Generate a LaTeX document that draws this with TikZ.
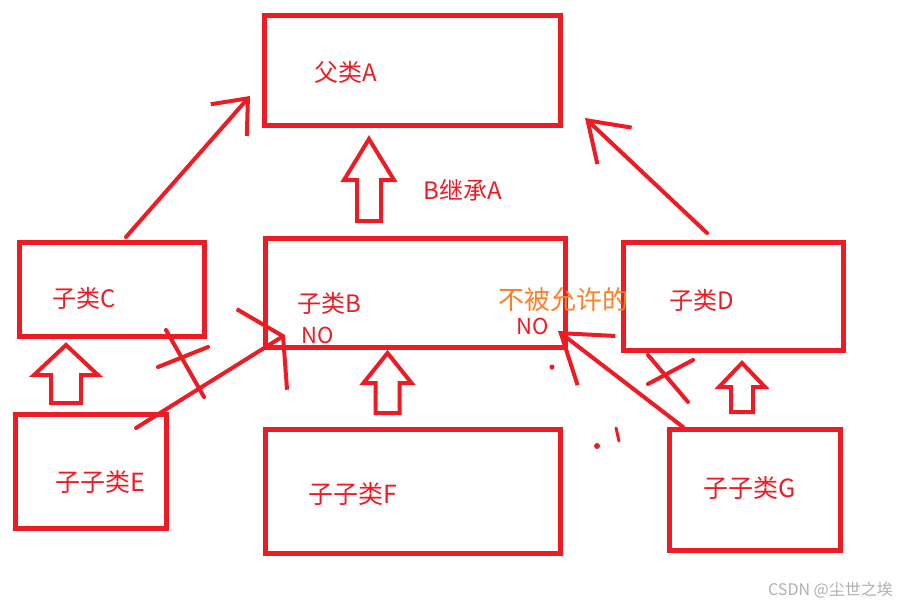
\documentclass[tikz,border=0pt]{standalone}
\usepackage{fontspec}
\setmainfont{Noto Sans CJK SC}
\usetikzlibrary{arrows.meta, positioning, calc}
\definecolor{paintred}{RGB}{237,28,36}
\definecolor{paintorange}{RGB}{255,127,39}
\definecolor{markgray}{RGB}{175,175,175}
\tikzset{
  box/.style={draw=paintred, line width=4.5pt, inner sep=0pt, outer sep=0pt},
  lbl/.style={text=paintred, font=\fontsize{24}{28}\selectfont, inner sep=0pt},
  arr/.style={draw=paintred, line width=4pt, line cap=round, line join=round},
  blk/.style={draw=paintred, line width=4pt, line join=miter},
  crossline/.style={draw=paintred, line width=4pt, line cap=round},
  pics/blockup/.style n args={4}{code={
    \draw[blk] (-#4,0) -- (-#4,#2-#1) -- (-#3,#2-#1) -- (0,-#1) -- (#3,#2-#1) -- (#4,#2-#1) -- (#4,0) -- cycle;
  }},
}

\begin{document}
\begin{tikzpicture}[x=1pt, y=-1pt]
  \useasboundingbox (0,0) rectangle (903,605);
  % classes
  \node[box, minimum width=296pt, minimum height=110pt] (A) at (412.5,70.5) {};
  \node[box, minimum width=300pt, minimum height=109pt] (B) at (415.5,293) {};
  \node[box, minimum width=185pt, minimum height=94pt] (C) at (112,289.5) {};
  \node[box, minimum width=220pt, minimum height=108pt] (D) at (733.5,296.5) {};
  \node[box, minimum width=151pt, minimum height=114pt] (E) at (91,471.5) {};
  \node[box, minimum width=295pt, minimum height=124pt] (F) at (413,491.5) {};
  \node[box, minimum width=171pt, minimum height=121pt] (G) at (755,490) {};

  % labels
  \node[lbl] (tA) at (345.5,72) {父类A};
  \node[lbl] (tAB) at (462.5,190) {B继承A};
  \node[lbl] (tC) at (84,298) {子类C};
  \node[lbl] (tB) at (329,303) {子类B};
  \node[lbl, font=\fontsize{22}{26}\selectfont] (noB) at (318,335) {NO};
  \node[lbl, text=paintorange, font=\fontsize{26}{30}\selectfont] (deny) at (563,300) {不被允许的};
  \node[lbl, font=\fontsize{22}{26}\selectfont] (noD) at (533,326) {NO};
  \node[lbl] (tD) at (701.5,300) {子类D};
  \node[lbl, font=\fontsize{25}{29}\selectfont] (tE) at (100.5,482) {子子类E};
  \node[lbl, font=\fontsize{25}{29}\selectfont] (tF) at (353,494) {子子类F};
  \node[lbl, font=\fontsize{25}{29}\selectfont] (tG) at (749.5,488) {子子类G};
  \node[lbl, text=markgray, font=\fontsize{16}{18}\selectfont] (wm) at (830.5,590) {CSDN @尘世之埃};

  % inheritance, hollow arrows
  \pic at (369,221) {blockup={82}{41}{25}{12}};
  \pic at (66,403) {blockup={58}{30}{32}{15}};
  \pic at (387.5,413) {blockup={60}{30}{24}{12}};
  \pic at (742,412) {blockup={49}{24}{23}{11}};

  % line arrows
  \draw[arr, -{Straight Barb[length=29pt, width=48pt]}]
    ([xshift=14pt, yshift=5.5pt]C.north) -- ([xshift=-14.5pt, yshift=-25.5pt]A.west);
  \draw[arr, -{Straight Barb[length=37pt, width=50pt]}]
    ([xshift=-26.5pt, yshift=9.5pt]D.north) -- ([xshift=24.5pt, yshift=-47.5pt]A.east);
  \draw[arr, -{Straight Barb[length=25pt, width=95pt]}]
    ([xshift=-30.5pt, yshift=-13.5pt]E.north east) -- ([xshift=19.5pt, yshift=12.5pt]B.south west);
  \draw[arr, -{Straight Barb[length=45pt, width=62pt]}]
    ([xshift=13.5pt, yshift=2.5pt]G.north west) -- ([xshift=-7.5pt, yshift=16.5pt]B.south east);

  % crossed out
  \draw[crossline] (166,330) -- (204,397);
  \draw[crossline] (158,367) -- (208,347);
  \draw[crossline] (648,355) -- (688,402);
  \draw[crossline] (648,384) -- (693,360);

  % stray marks
  \fill[paintred] (552,367) circle (2.5pt);
  \fill[paintred] (597,446) circle (3pt);
  \draw[crossline, line width=3pt] (616,428) -- (619,441);
\end{tikzpicture}
\end{document}
